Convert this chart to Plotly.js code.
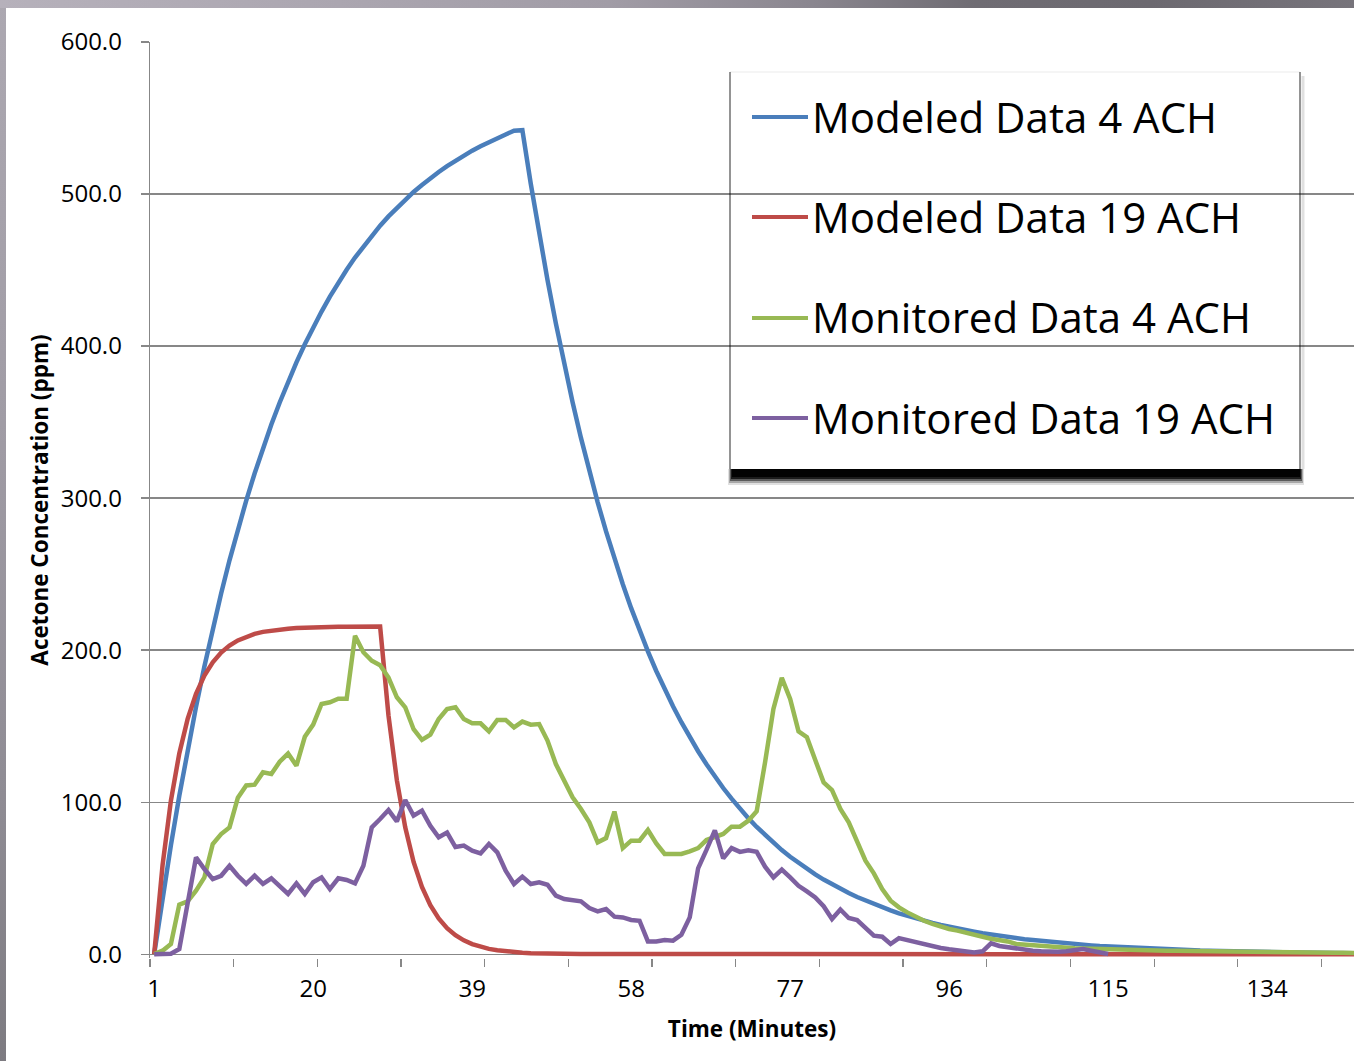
<!DOCTYPE html>
<html>
<head>
<meta charset="utf-8">
<script src="https://cdn.plot.ly/plotly-3.0.1.min.js"></script>
<style>
  html, body { margin: 0; padding: 0; }
  body {
    width: 1354px; height: 1061px; position: relative; overflow: hidden;
    background: linear-gradient(to bottom, #aca8b1 0%, #a09ca5 40%, #8f8c94 75%, #7d7b81 100%);
  }
  #topband {
    position: absolute; left: 0; top: 0; width: 1354px; height: 8px;
    background: linear-gradient(to right, #b6b1bb 0%, #aba6b0 25%, #a19ca6 45%, #8a868f 60%, #6f6c73 72%, #6c6970 85%, #77747b 100%);
  }
  #chart {
    position: absolute; left: 6px; top: 8px; width: 1348px; height: 1053px; background: #fff;
  }
</style>
</head>
<body>
<div id="topband"></div>
<div id="chart"></div>
<script>
// ---- data ----
const seriesNames = ['Modeled Data 4 ACH', 'Modeled Data 19 ACH', 'Monitored Data 4 ACH', 'Monitored Data 19 ACH'];
const seriesColors = ['#4a7ebb', '#be4b48', '#98b954', '#7d60a0'];
const xTickLabels = ['1', '20', '39', '58', '77', '96', '115', '134'];

const modeled4ACH = [
  0, 37.0, 71.7, 104.1, 134.4, 162.7, 189.2, 214.1, 237.3, 259.1,
  279.4, 298.4, 316.2, 332.8, 348.4, 362.9, 376.5, 389.3, 401.2, 412.3,
  422.7, 432.5, 441.6, 450.2, 458.2, 465.6, 472.6, 479.2, 485.3, 491.0,
  496.4, 501.4, 506.0, 510.5, 514.5, 518.4, 522.0, 525.3, 528.5, 531.4,
  534.2, 536.7, 539.2, 541.6, 542.0, 506.8, 474.0, 443.5, 414.9, 388.1,
  363.1, 339.6, 317.8, 297.2, 278.1, 260.1, 243.3, 227.6, 212.9, 199.2,
  186.3, 174.3, 163.1, 152.6, 142.7, 133.5, 124.9, 116.8, 109.3, 102.3,
  95.7, 89.5, 83.7, 78.3, 73.2, 68.5, 64.1, 60.0, 56.1, 52.5,
  49.1, 45.9, 43.0, 40.2, 37.6, 35.2, 32.9, 30.8, 28.8, 26.9,
  25.2, 23.6, 22.0, 20.6, 19.3, 18.0, 16.9, 15.8, 14.8, 13.8,
  12.9, 12.1, 11.3, 10.6, 9.9, 9.3, 8.7, 8.1, 7.6, 7.1,
  6.6, 6.2, 5.8, 5.4, 5.1, 4.8, 4.4, 4.2, 3.9, 3.6,
  3.4, 3.2, 3.0, 2.8, 2.6, 2.4, 2.3, 2.1, 2.0, 1.8,
  1.7, 1.6, 1.5, 1.4, 1.3, 1.2, 1.1, 1.0, 1.0, 0.9,
  0.8, 0.8, 0.7, 0.7, 0.6
];

const modeled19ACH = [
  0, 58.5, 101.1, 132.1, 154.8, 171.3, 183.3, 192.0, 198.4, 203.0,
  206.4, 208.9, 210.7, 212.0, 212.9, 213.6, 214.1, 214.5, 214.8, 215.0,
  215.2, 215.2, 215.3, 215.4, 215.4, 215.4, 215.5, 215.5, 157.0, 114.4,
  83.4, 60.7, 44.2, 32.2, 23.5, 17.1, 12.5, 9.1, 6.6, 4.8,
  3.5, 2.6, 1.9, 1.4, 1.0, 0.7, 0.5, 0.4, 0.3, 0.2,
  0.1, 0.1, 0.1, 0.1, 0.1, 0, 0, 0, 0, 0,
  0, 0, 0, 0, 0, 0, 0, 0, 0, 0,
  0, 0, 0, 0, 0, 0, 0, 0, 0, 0,
  0, 0, 0, 0, 0, 0, 0, 0, 0, 0,
  0, 0, 0, 0, 0, 0, 0, 0, 0, 0,
  0, 0, 0, 0, 0, 0, 0, 0, 0, 0,
  0, 0, 0, 0, 0, 0, 0, 0, 0, 0,
  0, 0, 0, 0, 0, 0, 0, 0, 0, 0,
  0, 0, 0, 0, 0, 0, 0, 0, 0, 0,
  0, 0, 0, 0, 0
];

const monitored4ACH = [
  0, 2.3, 6.7, 32.6, 34.8, 41.8, 50.5, 72.5, 79.0, 83.4,
  103.0, 111.0, 111.5, 119.6, 118.5, 126.6, 132.0, 124.0, 143.0, 151.0,
  164.6, 165.7, 168.0, 168.0, 209.5, 198.6, 193.0, 190.0, 182.0, 169.0,
  162.4, 148.0, 141.0, 144.4, 154.7, 161.3, 162.4, 154.7, 151.9, 151.9,
  146.6, 154.1, 154.1, 149.2, 153.0, 151.0, 151.4, 140.5, 125.1, 114.1,
  103.2, 95.5, 86.7, 73.6, 76.4, 93.8, 69.8, 74.7, 74.7, 81.7,
  72.9, 65.9, 65.9, 65.9, 67.7, 69.8, 75.1, 77.3, 79.1, 83.9,
  83.9, 87.8, 94.0, 126.2, 161.3, 181.7, 167.9, 146.6, 142.7, 127.7,
  113.0, 108.0, 95.5, 86.7, 74.7, 61.5, 53.2, 42.9, 35.2, 30.8,
  27.5, 24.5, 22.0, 20.0, 18.0, 16.6, 15.5, 14.4, 12.8, 11.5,
  10.2, 9.3, 8.4, 6.7, 6.2, 6.0, 5.6, 4.9, 4.5, 4.1,
  3.9, 3.7, 3.5, 3.3, 3.1, 3.0, 2.8, 2.7, 2.6, 2.5,
  2.4, 2.3, 2.2, 2.1, 2.0, 1.9, 1.8, 1.8, 1.7, 1.6,
  1.5, 1.5, 1.4, 1.3, 1.3, 1.2, 1.2, 1.1, 1.1, 1.0,
  1.0, 0.9, 0.9, 0.9, 0.8
];

const monitored19ACH = [
  0, 0, 0.3, 3.4, 33.0, 63.7, 56.0, 49.4, 51.6, 58.2,
  51.6, 46.2, 51.6, 46.2, 49.9, 44.4, 39.6, 46.6, 39.6, 47.3,
  50.5, 42.9, 49.9, 48.8, 46.6, 58.2, 83.4, 88.9, 94.8, 87.4,
  101.4, 91.1, 94.4, 84.5, 76.9, 80.0, 70.5, 71.4, 68.1, 66.3,
  72.5, 67.0, 54.9, 46.2, 51.0, 46.2, 47.3, 45.7, 38.5, 36.3,
  35.2, 34.8, 30.4, 28.2, 29.7, 24.7, 24.2, 22.5, 22.0, 8.4,
  8.4, 9.3, 8.9, 12.8, 24.2, 56.5, 68.6, 81.5, 63.0, 69.8,
  67.3, 68.3, 67.3, 57.6, 50.5, 55.7, 50.5, 45.0, 41.3, 37.4,
  31.6, 23.1, 29.4, 23.8, 22.5, 17.7, 12.2, 11.5, 6.7, 10.6,
  9.3, 7.8, 6.0, 4.9, 4.1, 3.2, 2.5, 1.9, 1.2, 1.9,
  7.1, 5.4, 4.5, 3.4, 2.7, 2.3, 1.9, 1.4, 1.6, 1.9,
  2.3, 3.4, 2.3, 1.0, 0.1
];

const seriesValues = [modeled4ACH, modeled19ACH, monitored4ACH, monitored19ACH];

// minute categories 1..N
const minutes = modeled4ACH.map((_, k) => k + 1);
const xTickVals = xTickLabels.map(Number);

// ---- layout geometry ----
const W = 1348, H = 1053;
const M = { l: 144, r: 0, t: 34, b: 103 };
const PLOT_X0 = 150, PLOT_X1 = 1354, PLOT_Y0 = 42, PLOT_Y1 = 958; // page px
const px2x = p => (p - PLOT_X0) / (PLOT_X1 - PLOT_X0);
const py2y = p => (PLOT_Y1 - p) / (PLOT_Y1 - PLOT_Y0);

const FONT = 'Open Sans, Lato, Arial, sans-serif';
const GRID = '#878787';

const traces = seriesValues.map((vals, k) => ({
  type: 'scatter', mode: 'lines', name: seriesNames[k],
  x: minutes.slice(0, vals.length), y: vals,
  line: { color: seriesColors[k], width: 4.5, shape: 'linear' },
  hoverinfo: 'skip', showlegend: false
}));

// custom legend (box with drop shadow, samples, labels)
const LB = { x0: 730, x1: 1300, y0: 72, y1: 469 };
const rowY = [117, 217, 318, 418];
const shadowLayers = [
  { dx0: -2, dx1: 4, h: 16, a: 0.12 },
  { dx0: -1, dx1: 3, h: 14, a: 0.25 },
  { dx0: 0, dx1: 2, h: 12, a: 0.45 },
  { dx0: 1, dx1: 1, h: 10, a: 0.7 },
  { dx0: 2, dx1: 0, h: 8, a: 0.9 }
];
const shapes = shadowLayers.map(s => ({
  type: 'rect', xref: 'paper', yref: 'paper', layer: 'above',
  x0: px2x(LB.x0 + s.dx0), x1: px2x(LB.x1 + s.dx1), y0: py2y(LB.y1), y1: py2y(LB.y1 + s.h),
  fillcolor: 'rgba(0,0,0,' + s.a + ')', line: { width: 0 }
}));
shapes.push(
  { type: 'line', xref: 'paper', yref: 'paper', layer: 'above',
    x0: px2x(LB.x0), x1: px2x(LB.x0), y0: py2y(LB.y0), y1: py2y(LB.y1),
    line: { color: 'rgba(0,0,0,0.42)', width: 2 } },
  { type: 'line', xref: 'paper', yref: 'paper', layer: 'above',
    x0: px2x(LB.x1), x1: px2x(LB.x1), y0: py2y(LB.y0), y1: py2y(LB.y1),
    line: { color: 'rgba(0,0,0,0.42)', width: 2 } },
  { type: 'line', xref: 'paper', yref: 'paper', layer: 'above',
    x0: px2x(LB.x1 + 3), x1: px2x(LB.x1 + 3), y0: py2y(LB.y0 + 4), y1: py2y(LB.y1),
    line: { color: 'rgba(0,0,0,0.12)', width: 3 } },
  { type: 'line', xref: 'paper', yref: 'paper', layer: 'above',
    x0: px2x(LB.x0), x1: px2x(LB.x1), y0: py2y(LB.y0), y1: py2y(LB.y0),
    line: { color: 'rgba(0,0,0,0.08)', width: 1 } }
);
const annotations = [];
seriesNames.forEach((name, k) => {
  shapes.push({ type: 'line', xref: 'paper', yref: 'paper', layer: 'above',
    x0: px2x(752), x1: px2x(808), y0: py2y(rowY[k]), y1: py2y(rowY[k]),
    line: { color: seriesColors[k], width: 4 } });
  annotations.push({ xref: 'paper', yref: 'paper', x: px2x(810), y: py2y(rowY[k] - 1),
    xanchor: 'left', yanchor: 'middle', showarrow: false, text: name,
    font: { family: FONT, size: 42, color: '#000' } });
});

const layout = {
  width: W, height: H,
  margin: M,
  paper_bgcolor: '#ffffff', plot_bgcolor: '#ffffff',
  showlegend: false,
  font: { family: FONT, color: '#000' },
  xaxis: {
    type: 'linear', range: [0.5, 144.38],
    tickmode: 'array', tickvals: xTickVals, ticktext: xTickLabels,
    ticks: '', showgrid: false, zeroline: false, showline: false,
    tickfont: { family: FONT, size: 24, color: '#000' },
    ticklabelstandoff: 14,
    minor: { tick0: 0.5, dtick: 10, ticks: 'outside', ticklen: 8, tickwidth: 1.3,
             tickcolor: GRID, showgrid: false },
    title: { text: 'Time (Minutes)', font: { family: FONT, size: 22.5, weight: 700, color: '#000' },
             standoff: 18 }
  },
  yaxis: {
    range: [-2.5, 600], tickmode: 'linear', tick0: 0, dtick: 100, tickformat: '.1f',
    ticks: 'outside', ticklen: 8, tickwidth: 1.3, tickcolor: GRID,
    showgrid: true, gridcolor: GRID, gridwidth: 1.3,
    showline: true, linecolor: GRID, linewidth: 1.3,
    zeroline: true, zerolinecolor: GRID, zerolinewidth: 1.3,
    tickfont: { family: FONT, size: 24, color: '#000' },
    ticklabelstandoff: 14,
    title: { text: 'Acetone Concentration (ppm)', font: { family: FONT, size: 22.5, weight: 700, color: '#000' },
             standoff: 5 }
  },
  shapes: shapes,
  annotations: annotations
};

Plotly.newPlot('chart', traces, layout, { displayModeBar: false, staticPlot: true });
</script>
</body>
</html>
